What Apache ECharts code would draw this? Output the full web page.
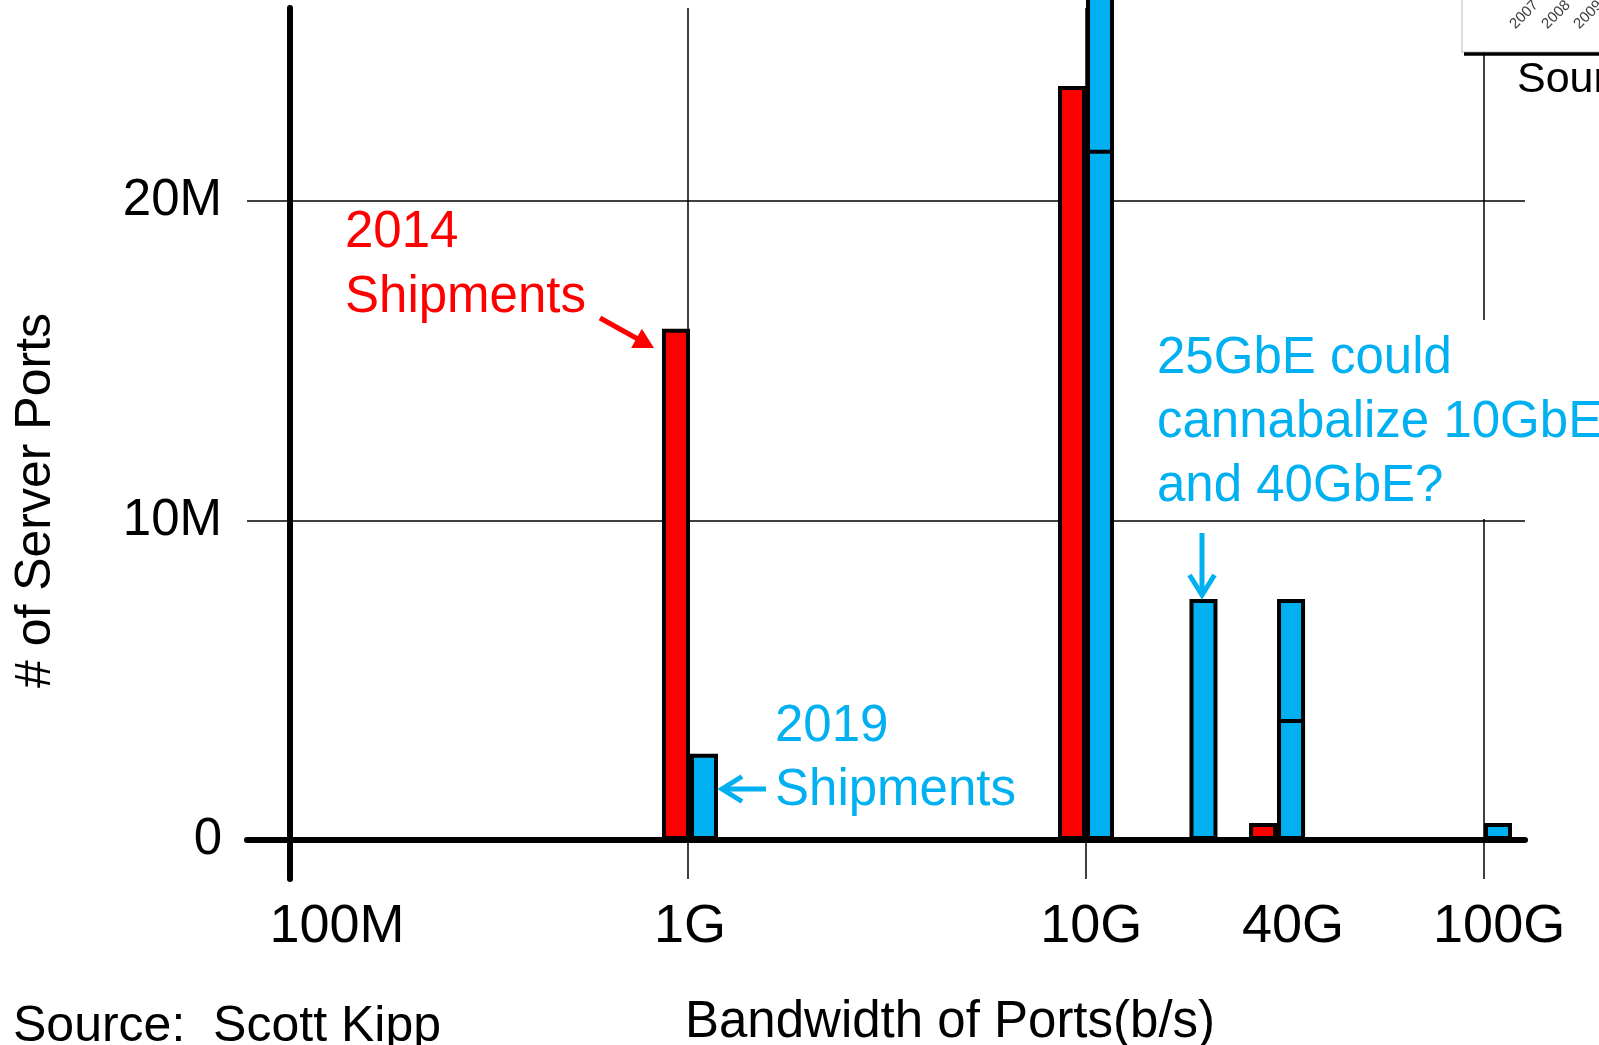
<!DOCTYPE html>
<html>
<head>
<meta charset="utf-8">
<script src="https://cdn.jsdelivr.net/npm/echarts@6/dist/echarts.min.js"></script>
<style>
  html, body { margin: 0; padding: 0; background: #fff; }
  #chart { width: 1599px; height: 1045px; }
</style>
</head>
<body>
<div id="chart"></div>
<script>
// Port speeds and where each sits on the bandwidth axis (decades above 100 Mb/s)
const speeds = ['1G', '10G', '25G', '40G', '100G'];
const speedPos = [1.005, 2.0, 2.26, 2.48, 3.0];

// Server ports shipped, millions
const ports2014 = [16.0, 23.6, null, 0.53, null];
const ports2019 = [2.7, 21.6, 7.54, 3.79, 0.53];
// Upper 2019 outlook for 10GbE and 40GbE (before 25GbE takes its share)
const ports2019High = [null, 28.0, null, 7.54, null];

// Axis ticks and tick labels
const yTicks = [0, 10, 20];
const xTicks = [0, 1, 2, 3];
const xTickLabels = ['100M', '1G', '10G', '40G', '100G'];

// Layout: where each bandwidth label is centred along the axis
const xLabelAt = [0.118, 1.005, 2.013, 2.52, 3.038];

const RED = '#FF0000';
const BLUE = '#00B0F0';
const FONT = "'Liberation Sans', Arial, sans-serif";
const X_MIN = -0.108, X_MAX = 3.103;
const BAR_W = 28;

const pairs = (vals) => speedPos.map((x, i) => [x, vals[i] == null ? '-' : vals[i]]);
const barStyle = (color) => ({ color: color, borderColor: '#000', borderWidth: 4 });

// Arrow built from a shaft and a head (filled triangle or open chevron)
function arrow(x1, y1, x2, y2, color, width, headLen, headHalf, filled) {
  const dx = x2 - x1, dy = y2 - y1, L = Math.hypot(dx, dy);
  const ux = dx / L, uy = dy / L, nx = -uy, ny = ux;
  const bx = x2 - ux * headLen, by = y2 - uy * headLen;
  const els = [];
  if (filled) {
    els.push({ type: 'line', z: 100, shape: { x1: x1, y1: y1, x2: bx + ux * 2, y2: by + uy * 2 },
      style: { stroke: color, lineWidth: width } });
    els.push({ type: 'polygon', z: 100, shape: { points: [[x2, y2],
      [bx + nx * headHalf, by + ny * headHalf], [bx - nx * headHalf, by - ny * headHalf]] },
      style: { fill: color } });
  } else {
    els.push({ type: 'line', z: 100, shape: { x1: x1, y1: y1, x2: x2 - ux * 2, y2: y2 - uy * 2 },
      style: { stroke: color, lineWidth: width } });
    els.push({ type: 'polyline', z: 100, shape: { points: [
      [bx + nx * headHalf, by + ny * headHalf], [x2 - ux * 2, y2 - uy * 2], [bx - nx * headHalf, by - ny * headHalf]] },
      style: { stroke: color, lineWidth: width, fill: null, lineJoin: 'miter' } });
  }
  return els;
}

const text = (str, x, y, color, size, extra, rot) => ({
  type: 'text', z: 100, x: x, y: y, rotation: rot || 0,
  style: Object.assign({ text: str, fill: color, font: size + 'px ' + FONT,
    align: 'left', verticalAlign: 'top' }, extra || {})
});

const yearStyle = { align: 'right', verticalAlign: 'middle' };

const graphics = [].concat(
  // corner of a neighbouring figure
  [{ type: 'rect', z: 100, shape: { x: 1462, y: -4, width: 150, height: 56 },
     style: { fill: '#fff', stroke: '#cfcfcf', lineWidth: 1.5 } },
   { type: 'line', z: 101, shape: { x1: 1464, y1: 54, x2: 1599, y2: 54 },
     style: { stroke: '#000', lineWidth: 3.5 } },
   text('2007', 1536, 3, '#404040', 15, yearStyle, Math.PI / 4),
   text('2008', 1568, 3, '#404040', 15, yearStyle, Math.PI / 4),
   text('2009', 1600, 3, '#404040', 15, yearStyle, Math.PI / 4),
   text('Source', 1517, 80, '#000', 43, { verticalAlign: 'middle' })
  ],
  [text('2014\nShipments', 345, 200, RED, 51, { lineHeight: 65 })],
  arrow(600, 318, 654, 348, RED, 5, 20, 11, true),
  [text('2019\nShipments', 775, 695, BLUE, 51, { lineHeight: 64 })],
  arrow(766, 789, 720, 789, BLUE, 5, 22, 12.5, false),
  [text('25GbE could\ncannabalize 10GbE\nand 40GbE?', 1157, 320, BLUE, 51,
        { lineHeight: 64, backgroundColor: '#fff', padding: [7, 0, 0, 0] })],
  arrow(1202, 533, 1202, 597, BLUE, 5, 22, 12.5, false),
  [text('Source:  Scott Kipp', 13, 1027, '#000', 50, { verticalAlign: 'middle' })]
);

const chart = echarts.init(document.getElementById('chart'), null, { renderer: 'canvas' });

chart.setOption({
  backgroundColor: '#fff',
  animation: false,
  grid: { left: 247, right: 74, top: 8, bottom: 166, containLabel: false, outerBoundsMode: 'none' },
  xAxis: [{
    type: 'value',
    min: X_MIN,
    max: X_MAX,
    axisLine: { show: true, onZero: true, lineStyle: { color: '#000', width: 6 } },
    axisTick: { show: false, customValues: xTicks },
    splitLine: { show: true, lineStyle: { color: '#000', width: 1.5 } },
    axisLabel: {
      customValues: xLabelAt,
      margin: 21,
      fontSize: 54,
      fontFamily: FONT,
      color: '#000',
      formatter: function (v) {
        let best = 0;
        xLabelAt.forEach((p, i) => { if (Math.abs(p - v) < Math.abs(xLabelAt[best] - v)) best = i; });
        return xTickLabels[best];
      }
    },
    name: 'Bandwidth of Ports(b/s)',
    nameLocation: 'middle',
    nameGap: 118,
    nameTextStyle: { fontSize: 51, fontFamily: FONT, color: '#000', padding: [0, 0, 0, 128] }
  }, {
    // same scale; carries the taller 2019 bars that sit behind the main ones
    type: 'value', min: X_MIN, max: X_MAX, show: false
  }],
  yAxis: {
    type: 'value',
    min: -1.22,
    max: 26.04,
    axisLine: { show: true, onZero: true, lineStyle: { color: '#000', width: 6 } },
    axisTick: { show: false, customValues: yTicks },
    splitLine: { show: true, lineStyle: { color: '#000', width: 1.5 } },
    axisLabel: {
      customValues: yTicks,
      margin: 25,
      fontSize: 51,
      fontFamily: FONT,
      color: '#000',
      formatter: (v) => (v === 0 ? '0' : v + 'M')
    },
    name: '# of Server Ports',
    nameLocation: 'middle',
    nameRotate: 90,
    nameGap: 186,
    nameTextStyle: { fontSize: 50, fontFamily: FONT, color: '#000', padding: [0, 114, 0, 0] }
  },
  series: [
    { name: '2014', type: 'bar', xAxisIndex: 0, data: pairs(ports2014), barWidth: BAR_W, barGap: '0%',
      itemStyle: barStyle(RED), clip: false, z: 3 },
    { name: '2019', type: 'bar', xAxisIndex: 0, data: pairs(ports2019), barWidth: BAR_W, barGap: '0%',
      itemStyle: barStyle(BLUE), clip: false, z: 3 },
    // keeps the left slot free on the second axis so the taller bars line up with 2019
    { name: 'slot', type: 'bar', xAxisIndex: 1, data: [], barWidth: BAR_W, barGap: '0%' },
    { name: '2019 upper', type: 'bar', xAxisIndex: 1, data: pairs(ports2019High), barWidth: BAR_W, barGap: '0%',
      itemStyle: barStyle(BLUE), clip: false, z: 2 }
  ],
  graphic: graphics
});
</script>
</body>
</html>
